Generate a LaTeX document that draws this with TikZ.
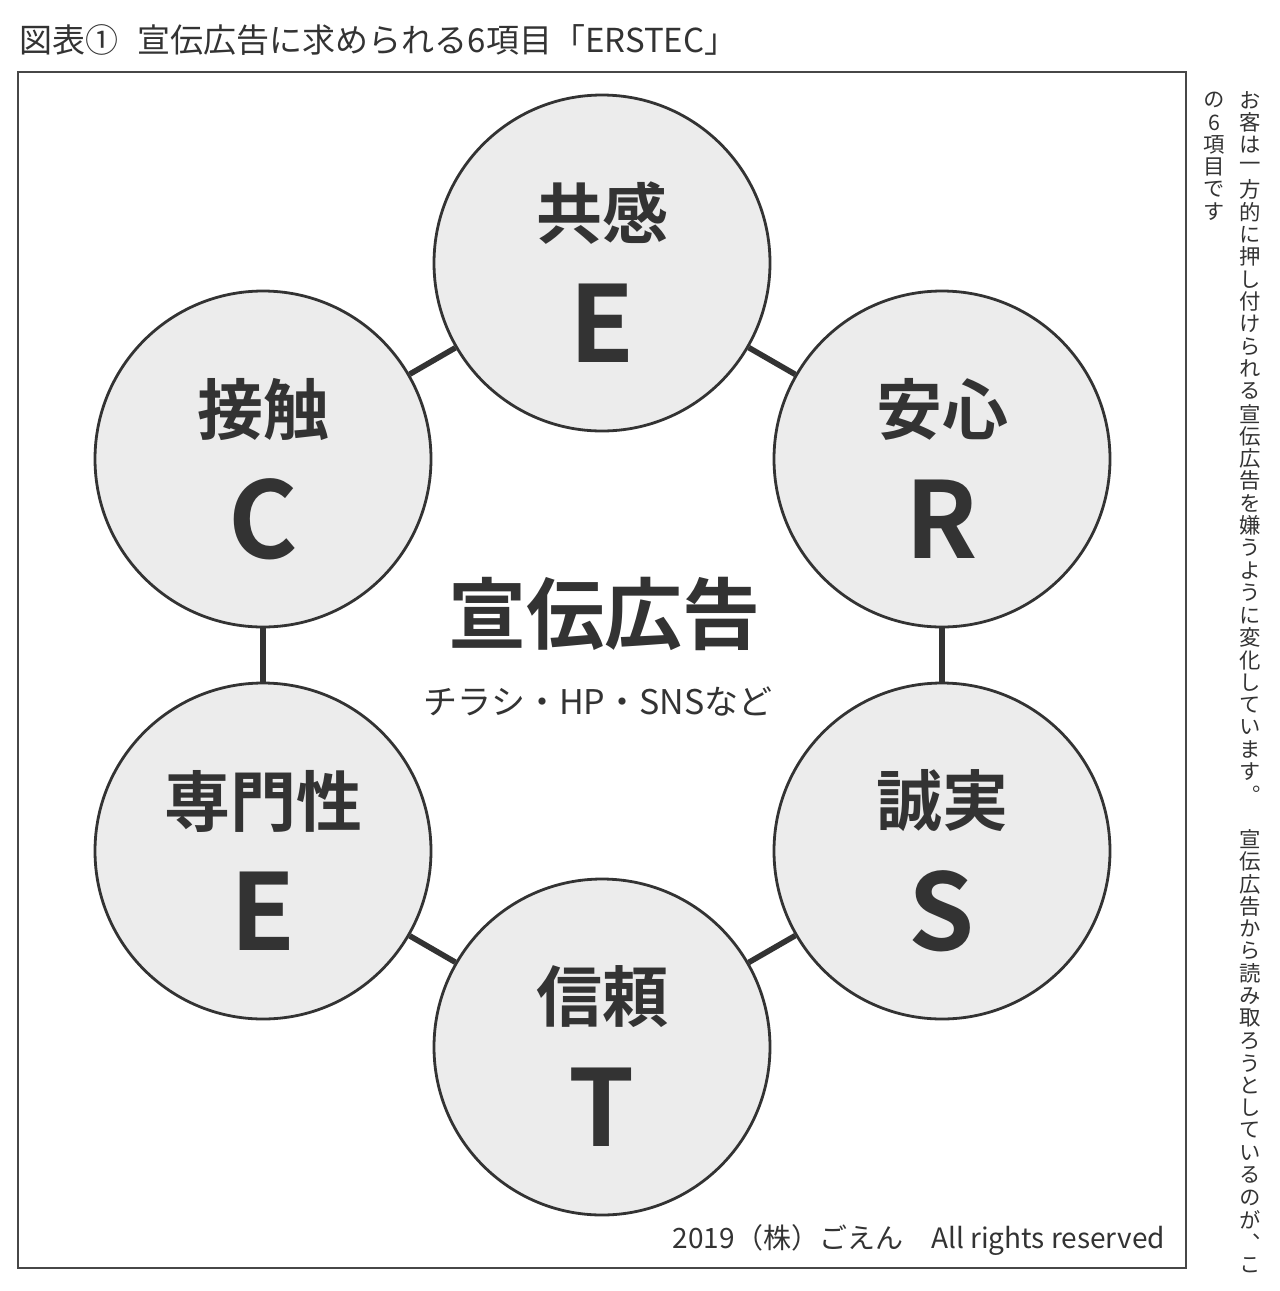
\documentclass[tikz,border=0pt]{standalone}
\usepackage{fontspec}
\setmainfont{Noto Sans CJK JP}[BoldFont={Noto Sans CJK JP Bold}]
\newfontfamily\tatefont{Noto Sans CJK JP}[RawFeature=+vert]
\usepackage{tikz}
\usepackage{xcolor}

\definecolor{ink}{HTML}{333333}
\definecolor{disc}{HTML}{ECECEC}

\begin{document}
\begin{tikzpicture}[x=0.5pt, y=-0.5pt,
    item/.style={circle, draw=ink, line width=1.4pt, fill=disc, minimum size=168pt, inner sep=0pt},
    kw/.style={text=ink, font=\fontsize{33}{33}\selectfont\bfseries},
    letter/.style={text=ink, font=\fontsize{53}{53}\selectfont\bfseries},
    link/.style={draw=ink, line width=2.8pt},
    tate/.style={text=ink, inner sep=0pt, font=\tatefont\fontsize{10.7}{10.7}\selectfont}]
    \useasboundingbox (0, 0) rectangle (1280, 1291);

    \node[anchor=west, text=ink, font=\fontsize{16.5}{16.5}\selectfont] (title) at (12, 40) {図表①\hspace{0.6em}宣伝広告に求められる6項目「ERSTEC」};
    \draw[draw=ink!90, line width=1pt] (18, 72) rectangle (1186, 1268);

    \node[item] (c1) at (602, 263) {};
    \node[item] (c2) at (942, 459) {};
    \node[item] (c3) at (942, 851) {};
    \node[item] (c4) at (602, 1047) {};
    \node[item] (c5) at (263, 851) {};
    \node[item] (c6) at (263, 459) {};

    \draw[link] (c1) edge (c2)
                (c2) edge (c3)
                (c3) edge (c4)
                (c4) edge (c5)
                (c5) edge (c6)
                (c6) edge (c1);

    \node[kw] (k1) at (602, 213) {共感};
    \node[letter] (l1) at (602, 323) {E};
    \node[kw] (k2) at (942, 409) {安心};
    \node[letter] (l2) at (942, 519) {R};
    \node[kw] (k3) at (942, 801) {誠実};
    \node[letter] (l3) at (942, 911) {S};
    \node[kw] (k4) at (602, 997) {信頼};
    \node[letter] (l4) at (602, 1107) {T};
    \node[kw] (k5) at (263, 801) {専門性};
    \node[letter] (l5) at (263, 911) {E};
    \node[kw] (k6) at (263, 409) {接触};
    \node[letter] (l6) at (263, 519) {C};

    \node[text=ink, font=\fontsize{39}{39}\selectfont\bfseries] (ad) at (604, 614) {宣伝広告};
    \node[text=ink, font=\fontsize{17}{17}\selectfont] (media) at (598, 702) {チラシ・HP・SNSなど};

    \node[anchor=east, text=ink, font=\fontsize{14}{14}\selectfont] (copy) at (1172, 1240) {2019（株）ごえん　All rights reserved};

    \foreach \ch [count=\i] in {お,客,は,一,方,的,に,押,し,付,け,ら,れ,る,宣,伝,広,告,を,嫌,う,よ,う,に,変,化,し,て,い,ま,す,。,　,宣,伝,広,告,か,ら,読,み,取,ろ,う,と,し,て,い,る,の,が,、,こ}
        \node[tate] (v\i) at (1250, 77.6+22.4*\i) {\ch};
    \foreach \ch [count=\i] in {の,6,項,目,で,す}
        \node[tate] (w\i) at (1214, 77.6+22.4*\i) {\ch};
\end{tikzpicture}
\end{document}
